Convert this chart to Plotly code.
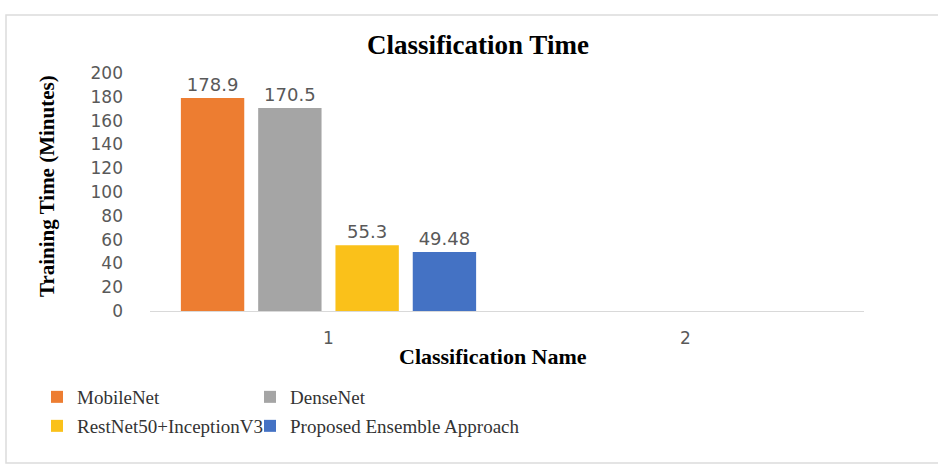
import plotly.graph_objects as go

# Chart data
categories = ["1", "2"]
series_names = ["MobileNet", "DenseNet", "RestNet50+InceptionV3", "Proposed Ensemble Approach"]
series_values = [
    [178.9, None],
    [170.5, None],
    [55.3, None],
    [49.48, None],
]
series_colors = ["#ED7D31", "#A5A5A5", "#FAC11A", "#4472C4"]
y_ticks = [0, 20, 40, 60, 80, 100, 120, 140, 160, 180, 200]

W, H = 938, 467
L, R, T, B = 150, 74, 73, 156
pw, ph = W - L - R, H - T - B


def px_x(x):
    return (x - L) / pw


def px_y(y):
    return (H - B - y) / ph


# one legend box per entry, laid out as a 2 x 2 grid (left px, top px)
legend_ids = ["legend", "legend2", "legend3", "legend4"]
legend_pos = [(37, 378), (250, 378), (37, 407), (250, 407)]

fig = go.Figure()
for name, vals, col, lg in zip(series_names, series_values, series_colors, legend_ids):
    fig.add_trace(go.Bar(
        x=categories, y=vals, name=name, legend=lg,
        marker=dict(color=col, line=dict(width=0)),
        text=[("" if v is None else f"{v:g}") for v in vals],
        textposition="outside", cliponaxis=False,
        textfont=dict(family="DejaVu Sans", size=18, color="#595959"),
    ))

legend_style = dict(orientation="h", xanchor="left", yanchor="top", itemwidth=30,
                    font=dict(family="Liberation Serif", size=19, color="#333333"),
                    bgcolor="rgba(0,0,0,0)")
legends = {lg: dict(x=px_x(lx), y=px_y(ly), **legend_style)
           for lg, (lx, ly) in zip(legend_ids, legend_pos)}

fig.update_layout(
    width=W, height=H,
    margin=dict(l=L, r=R, t=T, b=B),
    paper_bgcolor="white", plot_bgcolor="white",
    barmode="group", bargap=0.134, bargroupgap=0.18,
    showlegend=True,
    title=dict(text="<b>Classification Time</b>", x=px_x(478), xref="paper",
               xanchor="center", y=1 - 45 / H, yref="container", yanchor="middle",
               font=dict(family="Liberation Serif", size=27, color="black")),
    xaxis=dict(type="category", categoryorder="array", categoryarray=categories,
               showgrid=False, showline=True, linecolor="#D9D9D9", linewidth=1,
               ticks="", ticklabelstandoff=12,
               tickfont=dict(family="DejaVu Sans", size=17, color="#595959")),
    yaxis=dict(range=[0, 200], tickvals=y_ticks, showgrid=False, zeroline=False,
               showline=False, ticks="", ticklabelstandoff=26,
               tickfont=dict(family="DejaVu Sans", size=17, color="#595959")),
    annotations=[
        dict(text="<b>Training Time (Minutes)</b>", textangle=-90,
             x=px_x(47), y=px_y(186), xref="paper", yref="paper",
             xanchor="center", yanchor="middle", showarrow=False,
             font=dict(family="Liberation Serif", size=21, color="black")),
        dict(text="<b>Classification Name</b>",
             x=px_x(493), y=px_y(356), xref="paper", yref="paper",
             xanchor="center", yanchor="middle", showarrow=False,
             font=dict(family="Liberation Serif", size=22, color="black")),
    ],
    shapes=[
        dict(type="rect", xref="paper", yref="paper",
             x0=px_x(6), x1=px_x(940), y0=px_y(463), y1=px_y(15),
             line=dict(color="#DCDCDC", width=1.5), fillcolor="rgba(0,0,0,0)",
             layer="below"),
    ],
    **legends,
)

fig.write_html("out.html")
